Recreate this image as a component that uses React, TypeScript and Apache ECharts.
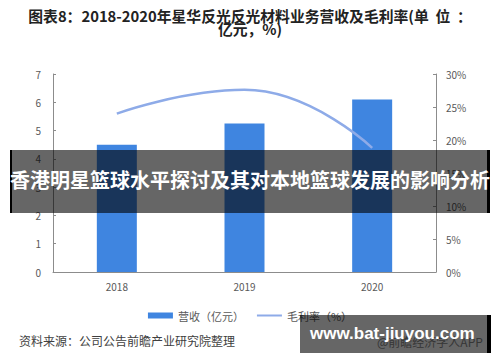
import React, { useEffect, useRef } from "react";
import * as echarts from "echarts";

const categories = ["2018", "2019", "2020"];
const revenue = [4.5, 5.25, 6.1];
const margin = [24, 27.6, 18.8];
const leftTicks = { min: 0, max: 7, interval: 1 };
const rightTicks = { min: 0, max: 30, interval: 5 };

const titleLine1 = "图表8：2018-2020年星华反光反光材料业务营收及毛利率(单  位  ：";
const titleLine2 = "亿元，%)";
const bannerText = "香港明星篮球水平探讨及其对本地篮球发展的影响分析";
const sourceText = "资料来源：公司公告前瞻产业研究院整理";
const siteText = "www.bat-jiuyou.com";
const appText = "@前瞻经济学人APP";

const FONT = "'Noto Sans CJK SC', 'Noto Sans', sans-serif";

export default function App() {
  const ref = useRef<HTMLDivElement>(null);
  useEffect(() => {
    if (!ref.current) return;
    const chart = echarts.init(ref.current, null, { renderer: "svg" });
    const axisColor = "#8c8c8c";
    const labelColor = "#595959";
    chart.setOption({
      animation: false,
      backgroundColor: "#ffffff",
      textStyle: { fontFamily: FONT },
      grid: { left: 53, right: 64, top: 74, bottom: 90 },
      legend: {
        top: 305,
        left: "center",
        itemGap: 12,
        itemWidth: 25,
        itemHeight: 6,
        textStyle: { fontSize: 11, color: labelColor, fontFamily: FONT },
        data: [
          { name: "营收（亿元）", icon: "rect" },
          { name: "毛利率（%）", itemStyle: { opacity: 0 } },
        ],
      },
      xAxis: {
        type: "category",
        data: categories,
        axisLine: { lineStyle: { color: axisColor } },
        axisTick: { show: false },
        axisLabel: { color: labelColor, fontSize: 10, margin: 9 },
      },
      yAxis: [
        {
          type: "value",
          ...leftTicks,
          axisLine: { show: true, lineStyle: { color: axisColor } },
          axisTick: { show: true, inside: true, length: 3, lineStyle: { color: axisColor } },
          splitLine: { show: false },
          axisLabel: { color: labelColor, fontSize: 10, margin: 12 },
        },
        {
          type: "value",
          ...rightTicks,
          position: "right",
          axisLine: { show: true, lineStyle: { color: axisColor } },
          axisTick: { show: true, inside: true, length: 3, lineStyle: { color: axisColor } },
          splitLine: { show: false },
          axisLabel: { color: labelColor, fontSize: 10, margin: 10, formatter: "{value}%" },
        },
      ],
      series: [
        {
          name: "营收（亿元）",
          type: "bar",
          data: revenue,
          barWidth: 40,
          itemStyle: { color: "#3F85E0" },
          z: 2,
        },
        {
          name: "毛利率（%）",
          type: "line",
          yAxisIndex: 1,
          data: margin,
          smooth: true,
          symbol: "none",
          lineStyle: { color: "#8EABE8", width: 2.5 },
          itemStyle: { color: "#8EABE8" },
          z: 3,
        },
      ],
      graphic: [
        {
          type: "text",
          left: "center",
          top: 8,
          z: 50,
          style: {
            text: titleLine1,
            fontSize: 14.8,
            fontWeight: "bold",
            fill: "#222222",
            fontFamily: FONT,
          },
        },
        {
          type: "text",
          left: "center",
          top: 21,
          z: 50,
          style: {
            text: titleLine2,
            fontSize: 14.8,
            fontWeight: "bold",
            fill: "#222222",
            fontFamily: FONT,
          },
        },
        {
          type: "text",
          left: 19,
          top: 334,
          z: 50,
          style: { text: sourceText, fontSize: 12, fill: "#404040", fontFamily: FONT },
        },
        {
          type: "text",
          left: 377,
          top: 335,
          z: 50,
          style: { text: appText, fontSize: 12, fill: "#888888", fontFamily: FONT },
        },
        {
          type: "rect",
          z: 100,
          shape: { x: 10, y: 150, width: 480, height: 63 },
          style: { fill: "rgba(0,0,0,0.6)" },
        },
        {
          type: "rect",
          z: 101,
          shape: { x: 10, y: 150, width: 2, height: 63 },
          style: { fill: "#000" },
        },
        {
          type: "rect",
          z: 101,
          shape: { x: 487, y: 150, width: 3, height: 63 },
          style: { fill: "#000" },
        },
        {
          type: "text",
          z: 102,
          left: "center",
          top: 169,
          style: {
            text: bannerText,
            fontSize: 20,
            fontWeight: "bold",
            fill: "#ffffff",
            fontFamily: FONT,
          },
        },
        {
          type: "rect",
          z: 100,
          shape: { x: 300, y: 315, width: 191, height: 38 },
          style: { fill: "rgba(0,0,0,0.6)" },
        },
        {
          type: "rect",
          z: 101,
          shape: { x: 487, y: 315, width: 4, height: 38 },
          style: { fill: "#000" },
        },
        {
          type: "text",
          z: 102,
          left: 310,
          top: 325,
          style: {
            text: siteText,
            fontSize: 17,
            fontWeight: "bold",
            fill: "#ffffff",
            fontFamily: "'Liberation Sans', Arial, sans-serif",
          },
        },
      ],
    });
    return () => chart.dispose();
  }, []);
  return (
    <div
      ref={ref}
      style={{ position: "fixed", left: 0, top: 0, width: 500, height: 362 }}
    />
  );
}
